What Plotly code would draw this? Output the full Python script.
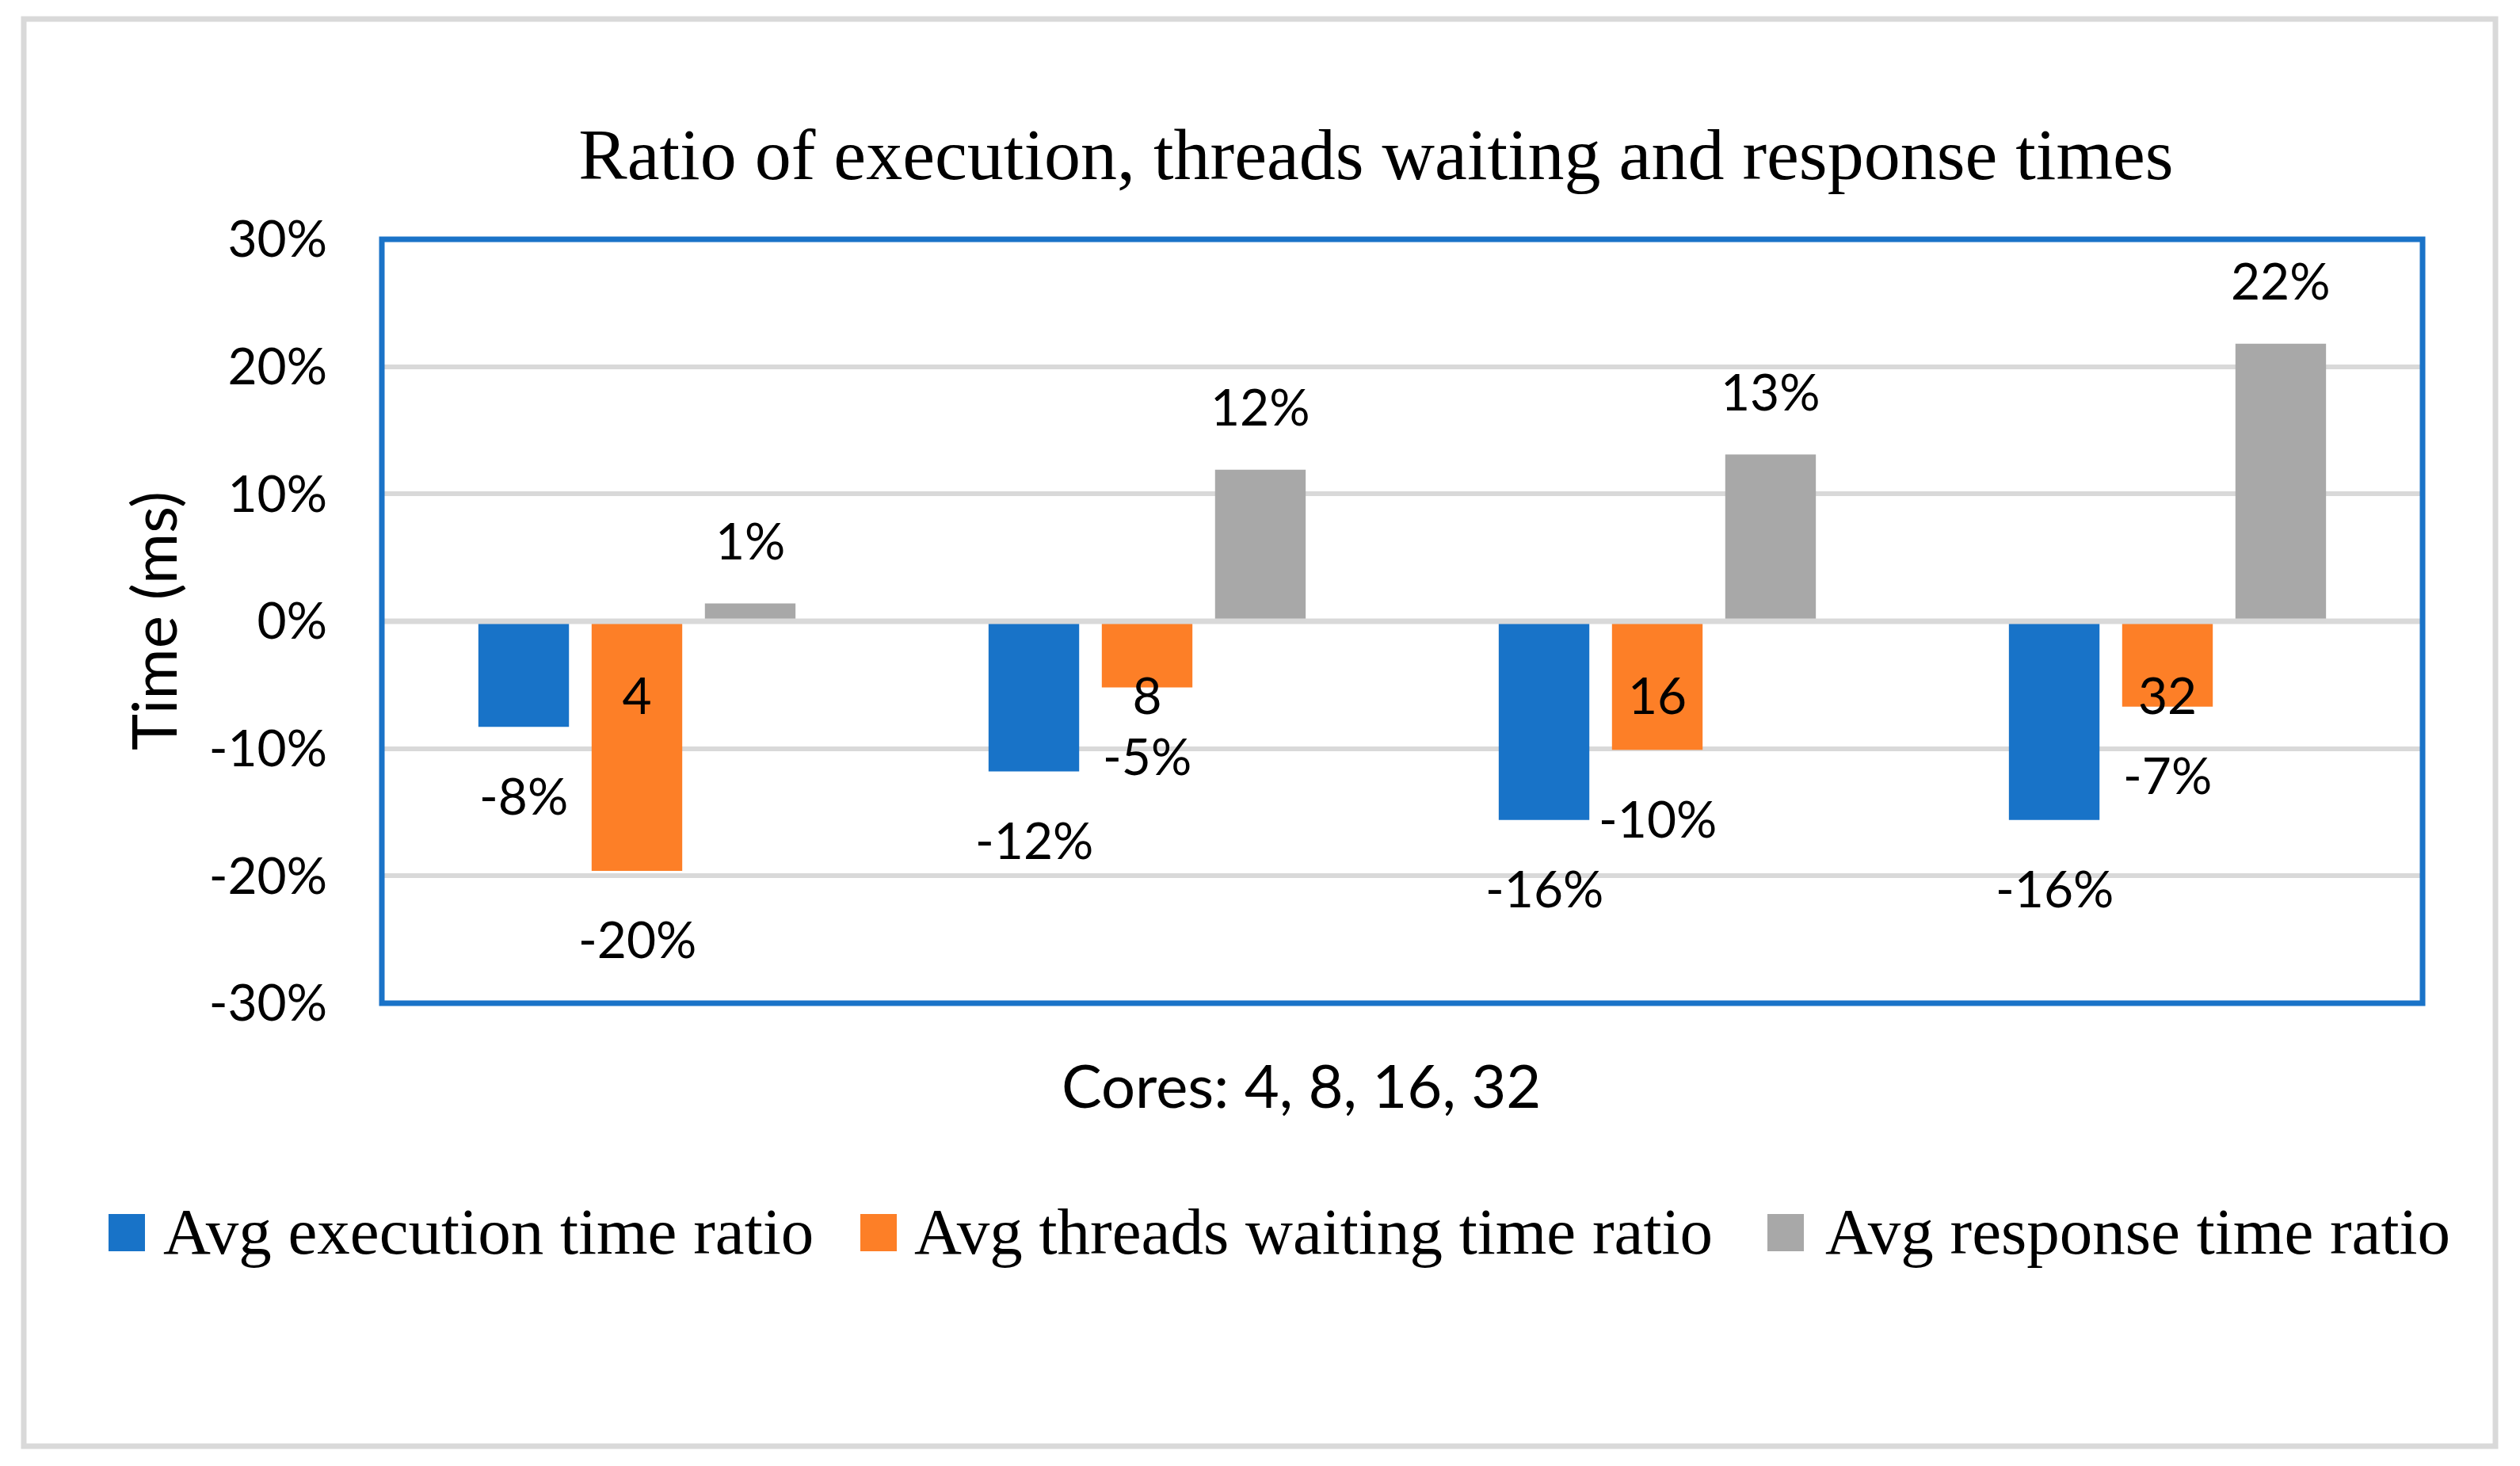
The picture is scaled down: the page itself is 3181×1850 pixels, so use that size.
import plotly.graph_objects as go

# ---------------- data ----------------
cores = ["4", "8", "16", "32"]
series_names = ["Avg execution time ratio", "Avg threads waiting time ratio", "Avg response time ratio"]
exec_ratio = [-8.3, -11.8, -15.6, -15.6]
wait_ratio = [-19.6, -5.2, -10.1, -6.7]
resp_ratio = [1.4, 11.9, 13.1, 21.8]
y_ticks = [-30, -20, -10, 0, 10, 20, 30]
y_tick_labels = ["-30%", "-20%", "-10%", "0%", "10%", "20%", "30%"]

title_text = "Ratio of execution, threads waiting and response times"
x_title = "Cores: 4, 8, 16, 32"
y_title = "Time (ms)"

# ---------------- style ----------------
colors = ["#1873C8", "#FD7F27", "#A8A8A8"]
OFF = 8                      # page body margin
W, H = 3181 - 2 * OFF, 1850 - 2 * OFF
# plot area in page pixels
PL, PR, PT, PB = 482, 3058, 302, 1266
L, R, T, B = PL - OFF, PR - OFF, PT - OFF, PB - OFF
PW, PH = R - L, B - T
SANS = "Lato"
SERIF = "Liberation Serif"
GRID = "#D9D9D9"
BLUE_FRAME = "#1A73C8"
bargap = 0.334
bargroupgap = 0.2


def px_x(p):  # page pixel -> paper x
    return (p - OFF - L) / PW


def px_y(p):  # page pixel -> paper y
    return (B - (p - OFF)) / PH


series = [exec_ratio, wait_ratio, resp_ratio]

fig = go.Figure()
for name, vals, col in zip(series_names, series, colors):
    fig.add_trace(go.Bar(x=cores, y=vals, name=name, marker=dict(color=col, line=dict(width=0)),
                         showlegend=False))

annotations = []
# data labels
slot = (1 - bargap) / len(series)
for j, vals in enumerate(series):
    for i, v in enumerate(vals):
        annotations.append(dict(
            x=i + (j - (len(series) - 1) / 2) * slot, y=v, xref="x", yref="y",
            text=f"{round(v)}%", showarrow=False,
            yshift=80 if v > 0 else -86, yanchor="middle", xanchor="center",
            font=dict(family=SANS, size=64, color="black")))

# axis titles
annotations.append(dict(x=px_x(1642), y=px_y(1368), xref="paper", yref="paper", text=x_title,
                        showarrow=False, xanchor="center", yanchor="middle",
                        font=dict(family=SANS, size=76, color="black")))
annotations.append(dict(x=px_x(193), y=px_y(784), xref="paper", yref="paper", text=y_title,
                        showarrow=False, textangle=-90, xanchor="center", yanchor="middle",
                        font=dict(family=SANS, size=78, color="black")))

shapes = []
# manual legend
legend_sq_x = [137, 1086, 2231]
legend_txt_x = [204, 1152, 2302]
for name, col, sx, tx in zip(series_names, colors, legend_sq_x, legend_txt_x):
    shapes.append(dict(type="rect", xref="paper", yref="paper",
                       x0=px_x(sx), x1=px_x(sx + 46), y0=px_y(1579), y1=px_y(1532),
                       fillcolor=col, line=dict(width=0)))
    annotations.append(dict(x=px_x(tx), y=px_y(1554), xref="paper", yref="paper", text=name,
                            showarrow=False, xanchor="left", yanchor="middle",
                            font=dict(family=SERIF, size=83, color="black")))

# outer chart border
shapes.append(dict(type="rect", xref="paper", yref="paper",
                   x0=px_x(30), x1=px_x(3150), y0=px_y(1825), y1=px_y(24),
                   line=dict(color=GRID, width=7), fillcolor="rgba(0,0,0,0)", layer="below"))
# zero line on top of bars
shapes.append(dict(type="line", xref="paper", yref="y", x0=0, x1=1, y0=0, y1=0,
                   line=dict(color=GRID, width=7), layer="above"))
# plot-area frame
shapes.append(dict(type="rect", xref="paper", yref="paper", x0=0, x1=1, y0=0, y1=1,
                   line=dict(color=BLUE_FRAME, width=7), fillcolor="rgba(0,0,0,0)", layer="above"))

fig.update_layout(
    width=W, height=H,
    margin=dict(l=L, r=W - R, t=T, b=H - B, pad=0),
    paper_bgcolor="white", plot_bgcolor="white",
    barmode="group", bargap=bargap, bargroupgap=bargroupgap,
    showlegend=False,
    title=dict(text=title_text, x=(1737 - OFF) / W, xanchor="center",
               y=1 - (194 - OFF) / H, yanchor="middle", xref="container", yref="container",
               font=dict(family=SERIF, size=92, color="black")),
    xaxis=dict(type="category", anchor="free", position=0.5, showline=False, showgrid=False,
               zeroline=False, ticks="", ticklabelstandoff=52,
               tickfont=dict(family=SANS, size=64, color="black")),
    yaxis=dict(range=[-30, 30], tickvals=y_ticks, ticktext=y_tick_labels, showgrid=True,
               gridcolor=GRID, gridwidth=6, zeroline=False, showline=False, ticks="",
               ticklabelstandoff=68, tickfont=dict(family=SANS, size=64, color="black")),
    annotations=annotations,
    shapes=shapes,
)

fig.write_html("out.html")
